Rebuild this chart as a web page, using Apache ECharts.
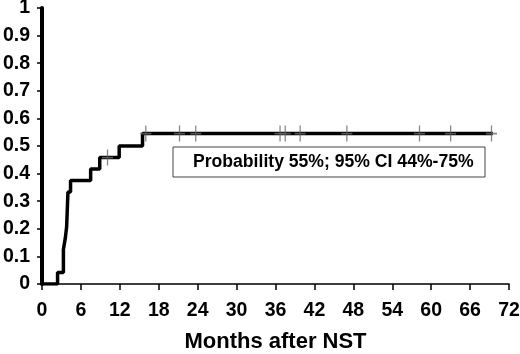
<!DOCTYPE html>
<html>
<head>
<meta charset="utf-8">
<script src="https://cdn.jsdelivr.net/npm/echarts@6/dist/echarts.min.js"></script>
<style>
  html, body { margin: 0; padding: 0; background: #fff; }
  #chart { width: 520px; height: 354px; }
</style>
</head>
<body>
<div id="chart"></div>
<script>
// event times (months) and cumulative probability after each step
const eventMonths = [0, 2.4, 3.3, 3.6, 3.8, 4.0, 4.4, 7.5, 8.9, 11.9, 15.5, 69.5]
const eventProb = [0, 0.042, 0.125, 0.167, 0.208, 0.333, 0.375, 0.417, 0.458, 0.5, 0.545, 0.545]
// censored patients
const censorMonths = [10.1, 16.0, 21.2, 23.7, 36.7, 37.5, 39.8, 47.0, 58.2, 63.0, 69.3]
const censorProb = [0.458, 0.545, 0.545, 0.545, 0.545, 0.545, 0.545, 0.545, 0.545, 0.545, 0.545]
const xTicks = { min: 0, max: 72, step: 6 }
const boxText = 'Probability 55%; 95% CI 44%-75%'

const font = '"Liberation Sans", Arial, sans-serif'
const chart = echarts.init(document.getElementById('chart'))

chart.setOption({
  animation: false,
  grid: { left: 42, right: 11, top: 8, bottom: 70, outerBoundsMode: 'none' },
  xAxis: {
    type: 'value',
    min: xTicks.min,
    max: xTicks.max,
    interval: xTicks.step,
    name: 'Months after NST',
    nameLocation: 'middle',
    nameGap: 47,
    nameTextStyle: { fontFamily: font, fontWeight: 'bold', fontSize: 22, color: '#000' },
    axisLine: { lineStyle: { color: '#000', width: 1.5 } },
    axisTick: { length: 6, lineStyle: { color: '#000', width: 1.5 } },
    axisLabel: { fontFamily: font, fontWeight: 'bold', fontSize: 19.5, color: '#000', margin: 17 },
    splitLine: { show: false }
  },
  yAxis: {
    type: 'value',
    min: 0,
    max: 1,
    interval: 0.1,
    axisLine: { show: true, lineStyle: { color: '#000', width: 4 } },
    axisTick: { show: true, length: 5, lineStyle: { color: '#000', width: 1.5 } },
    axisLabel: { fontFamily: font, fontWeight: 'bold', fontSize: 19.5, color: '#000', margin: 12 },
    splitLine: { show: false }
  },
  series: [
    {
      type: 'line',
      step: 'end',
      symbol: 'none',
      data: eventMonths.map((m, i) => [m, eventProb[i]]),
      lineStyle: { color: '#000', width: 3.5 },
      z: 2
    },
    {
      type: 'scatter',
      symbol: 'path://M5,0L5,14M0,7L10,7',
      symbolSize: [11, 16],
      data: censorMonths.map((m, i) => [m, censorProb[i]]),
      itemStyle: { color: 'none', borderColor: '#666', borderWidth: 1.5 },
      z: 3
    }
  ],
  graphic: [
    {
      type: 'rect',
      shape: { x: 173, y: 147, width: 312, height: 30 },
      style: { fill: '#fff', stroke: '#444', lineWidth: 1 }
    },
    {
      type: 'text',
      x: 193,
      y: 162,
      style: {
        text: boxText,
        fontFamily: font,
        fontWeight: 'bold',
        fontSize: 17.6,
        fill: '#000',
        verticalAlign: 'middle'
      }
    }
  ]
})
</script>
</body>
</html>
